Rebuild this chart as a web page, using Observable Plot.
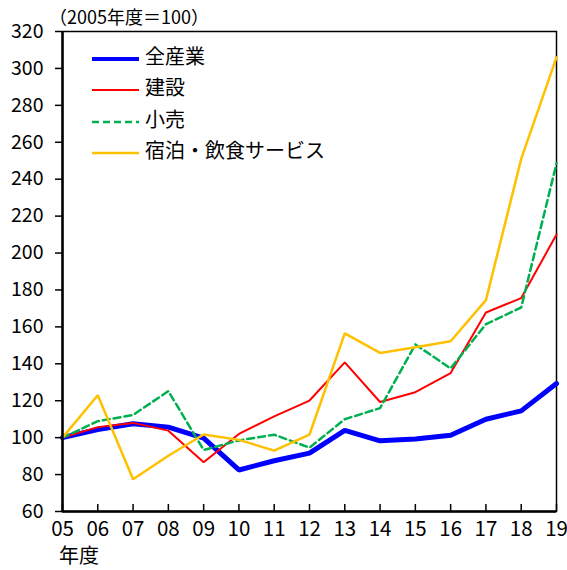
<!DOCTYPE html>
<html><head><meta charset="utf-8">
<script src="https://cdn.jsdelivr.net/npm/d3@7"></script>
<script src="https://cdn.jsdelivr.net/npm/@observablehq/plot@0.6"></script>
<style>body{margin:0;background:#fff}</style>
</head><body><div id="chart"></div>
<script>
const years = [2005,2006,2007,2008,2009,2010,2011,2012,2013,2014,2015,2016,2017,2018,2019];
const yTicks = [60,80,100,120,140,160,180,200,220,240,260,280,300,320];
const seriesNames = ["全産業","建設","小売","宿泊・飲食サービス"];
const allIndustry = [100,104.4,107.5,105.7,99.8,82.5,87.5,91.6,103.9,98.3,99.3,101.3,110,114.5,129.3];
const construction = [100,105.7,108,103.8,86.7,102,111.5,120.1,140.8,119.3,124.6,135,167.8,175.6,210];
const retail = [100,108.9,112.3,125.2,93.3,98.5,101.6,94.6,110,116,150.5,137.5,161.5,170.5,248.5];
const hotelFood = [100,123,77.5,90.2,101.7,98.8,93,101.7,156.5,145.9,149,152.2,174.5,251,306];
const titleText = "（2005年度＝100）";
const xAxisLabel = "年度";

const seriesValues = [allIndustry, construction, retail, hotelFood];
const styles = [
  {stroke:"#0000FF", strokeWidth:5, dash:null},
  {stroke:"#FF0000", strokeWidth:2, dash:null},
  {stroke:"#00B050", strokeWidth:2.5, dash:"7,4"},
  {stroke:"#FFC000", strokeWidth:2.5, dash:null}
];
const font = "'Noto Sans CJK JP', 'Noto Sans', sans-serif";

const lineMarks = seriesValues.map((vals, k) => {
  const rows = years.map((y, i) => ({year: y, value: vals[i]}));
  return Plot.line(rows, {x: "year", y: "value", stroke: styles[k].stroke,
    strokeWidth: styles[k].strokeWidth, strokeDasharray: styles[k].dash, strokeLinejoin: "miter"});
});

const chart = Plot.plot({
  width: 567, height: 570,
  marginLeft: 62, marginRight: 11, marginTop: 31, marginBottom: 59,
  style: {fontFamily: font, background: "#fff", color: "#000"},
  x: {domain: [2005, 2019]},
  y: {domain: [60, 320]},
  marks: [
    Plot.frame({strokeWidth: 1.5}),
    ...lineMarks,
    Plot.ruleX([2005], {strokeWidth: 2.5}),
    Plot.ruleY([60], {strokeWidth: 2.5}),
    Plot.axisY({ticks: yTicks, tickSize: 7, tickPadding: 12, fontSize: 19.5, tickFormat: d => String(d), label: null, strokeWidth: 1.5}),
    Plot.axisX({ticks: years, tickSize: 7, dy: -7, tickFormat: () => "", label: null, strokeWidth: 1.5}),
    Plot.axisX({ticks: years, tickSize: 0, tickPadding: 10, fontSize: 20.5, tickFormat: d => String(d % 100).padStart(2, "0"), label: null})
  ]
});
document.getElementById("chart").appendChild(chart);

const svg = d3.select(chart);
svg.append("text").attr("x", 49).attr("y", 19).attr("dominant-baseline", "middle").attr("text-anchor", "start")
  .style("font-family", font).style("font-size", "18px").text(titleText);
svg.append("text").attr("x", 59).attr("y", 558).attr("dominant-baseline", "middle").attr("text-anchor", "start")
  .style("font-family", font).style("font-size", "20px").text(xAxisLabel);

const legendY = [59, 90, 122, 153];
seriesNames.forEach((name, k) => {
  const g = svg.append("g");
  g.append("line").attr("x1", 92).attr("x2", 139).attr("y1", legendY[k]).attr("y2", legendY[k])
    .attr("stroke", styles[k].stroke).attr("stroke-width", k === 0 ? 4 : styles[k].strokeWidth)
    .attr("stroke-dasharray", styles[k].dash);
  g.append("text").attr("x", 145).attr("y", legendY[k]).attr("dominant-baseline", "middle").attr("text-anchor", "start")
    .style("font-family", font).style("font-size", "20px").text(name);
});
</script>
</body></html>
